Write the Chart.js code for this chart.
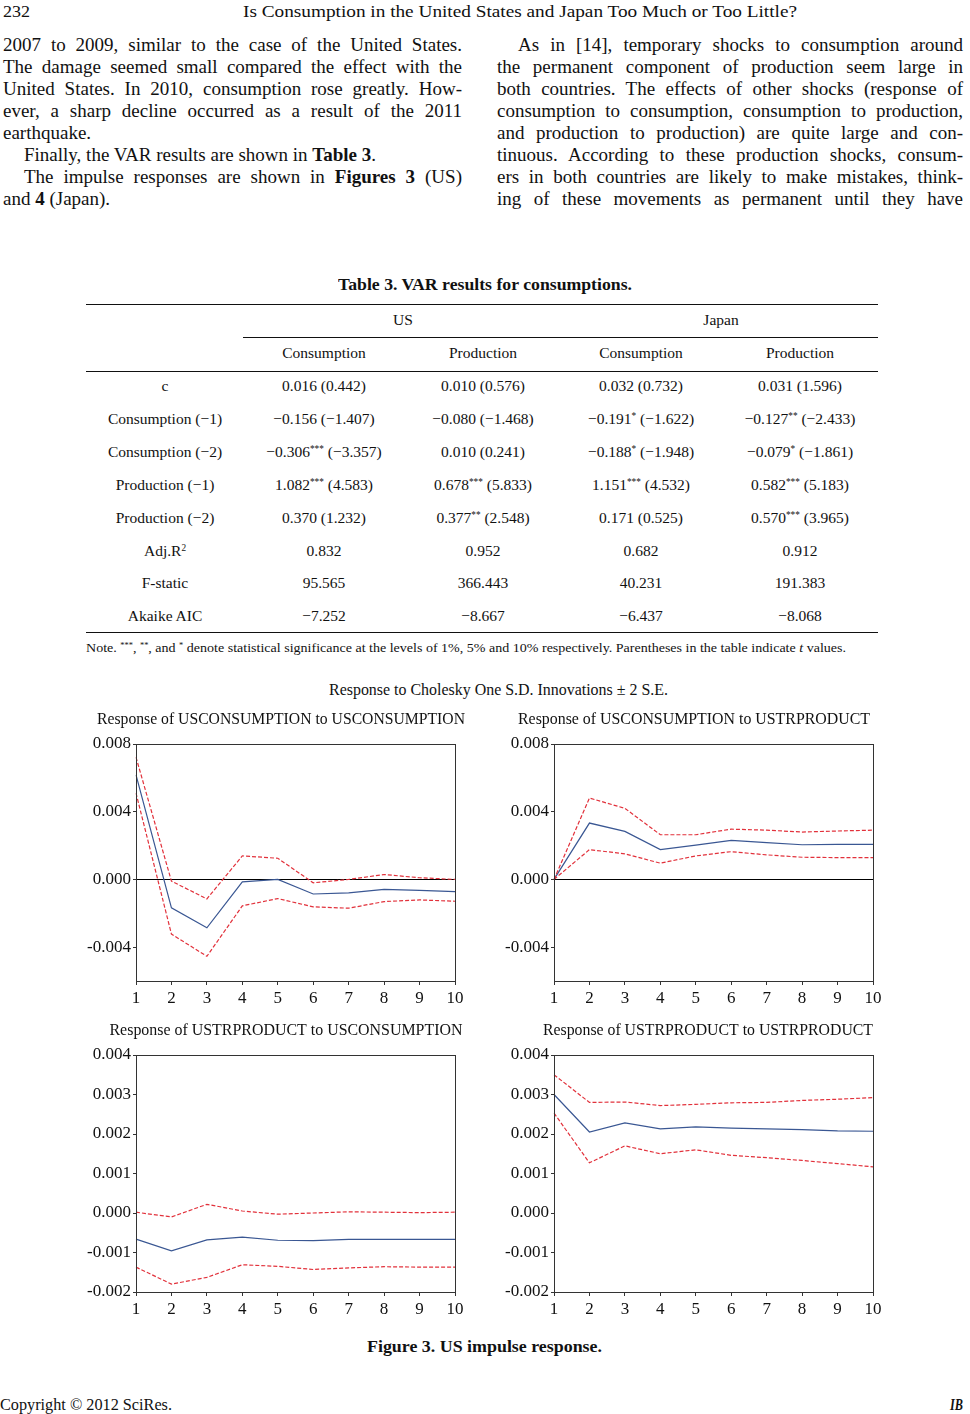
<!DOCTYPE html>
<html>
<head>
<meta charset="utf-8">
<title>Figure 3. US impulse response</title>
<script src="https://cdn.jsdelivr.net/npm/chart.js@4.4.1/dist/chart.umd.min.js"></script>
<style>
  html, body { margin: 0; padding: 0; background: #fff; }
  #page { position: relative; width: 970px; height: 1414px; overflow: hidden; background: #fff;
          font-family: "Liberation Serif", "DejaVu Serif", serif; color: #111; }
  .fit { position: absolute; white-space: nowrap; transform-origin: left center; line-height: 20px; }
  .col { position: absolute; top: 34px; font-size: 19px; line-height: 22px; }
  .col div { height: 22px; text-align: justify; text-align-last: justify; }
  .col div.last { text-align-last: left; }
  .col div.ind { text-indent: 21px; }
  .rule { position: absolute; height: 0; border-top: 1.3px solid #111; }
  .cell { position: absolute; white-space: nowrap; transform: translate(-50%, -50%); font-size: 15.5px; line-height: 20px; }
  sup { font-size: 0.6em; line-height: 0; vertical-align: 0.55em; }
  canvas { position: absolute; }
</style>
</head>
<body>
<div id="page">
  <div class="fit" data-x0="3" data-x1="30" data-y="12" style="font-size:16px">232</div>
  <div class="fit" data-x0="243" data-x1="797" data-y="12" style="font-size:16px">Is Consumption in the United States and Japan Too Much or Too Little?</div>

  <div class="col" style="left:3px; width:459px;">
    <div>2007 to 2009, similar to the case of the United States.</div>
    <div>The damage seemed small compared the effect with the</div>
    <div>United States. In 2010, consumption rose greatly. How-</div>
    <div>ever, a sharp decline occurred as a result of the 2011</div>
    <div class="last">earthquake.</div>
    <div class="ind last">Finally, the VAR results are shown in <b>Table 3</b>.</div>
    <div class="ind">The impulse responses are shown in <b>Figures 3</b> (US)</div>
    <div class="last">and <b>4</b> (Japan).</div>
  </div>
  <div class="col" style="left:497px; width:466px;">
    <div class="ind">As in [14], temporary shocks to consumption around</div>
    <div>the permanent component of production seem large in</div>
    <div>both countries. The effects of other shocks (response of</div>
    <div>consumption to consumption, consumption to production,</div>
    <div>and production to production) are quite large and con-</div>
    <div>tinuous. According to these production shocks, consum-</div>
    <div>ers in both countries are likely to make mistakes, think-</div>
    <div>ing of these movements as permanent until they have</div>
  </div>

  <div class="fit" data-x0="338" data-x1="632" data-y="285" style="font-size:16px; font-weight:bold">Table 3. VAR results for consumptions.</div>
  <div class="rule" style="left:86px; width:792px; top:304px;"></div>
  <div class="rule" style="left:243px; width:635px; top:337px;"></div>
  <div class="rule" style="left:86px; width:792px; top:371px;"></div>
  <div class="rule" style="left:86px; width:792px; top:632px;"></div>
  <div id="table"></div>
  <div class="fit" data-x0="86" data-x1="846" data-y="648" style="font-size:13px">Note. <sup>***</sup>, <sup>**</sup>, and <sup>*</sup> denote statistical significance at the levels of 1%, 5% and 10% respectively. Parentheses in the table indicate <i>t</i> values.</div>

  <div class="fit" data-x0="329" data-x1="668" data-y="690" style="font-size:16px">Response to Cholesky One S.D. Innovations ± 2 S.E.</div>

  <canvas id="ccChart" width="400" height="300" style="left:80px; top:704px;"></canvas>
  <canvas id="cpChart" width="400" height="300" style="left:498px; top:704px;"></canvas>
  <canvas id="pcChart" width="400" height="300" style="left:80px; top:1015px;"></canvas>
  <canvas id="ppChart" width="400" height="300" style="left:498px; top:1015px;"></canvas>

  <div class="fit" data-x0="367" data-x1="602" data-y="1347" style="font-size:16px; font-weight:bold">Figure 3. US impulse response.</div>
  <div class="fit" data-x0="0" data-x1="172" data-y="1405" style="font-size:16px">Copyright © 2012 SciRes.</div>
  <div class="fit" data-x0="950" data-x1="963" data-y="1405" style="font-size:17px; font-weight:bold; font-style:italic">IB</div>
</div>

<script>
// Impulse horizons (periods after the shock)
const horizons = ['1', '2', '3', '4', '5', '6', '7', '8', '9', '10'];

// Response of USCONSUMPTION to USCONSUMPTION
const ccResp  = [0.00618, -0.00168, -0.00286, -0.00014, 0.00000, -0.00086, -0.00080, -0.00059, -0.00065, -0.00072];
const ccUpper = [0.00722, -0.00010, -0.00115, 0.00139, 0.00125, -0.00020, 0.00000, 0.00029, 0.00010, 0.00000];
const ccLower = [0.00510, -0.00323, -0.00454, -0.00156, -0.00113, -0.00162, -0.00170, -0.00131, -0.00121, -0.00129];

// Response of USCONSUMPTION to USTRPRODUCT
const cpResp  = [0, 0.00333, 0.00284, 0.00176, 0.00203, 0.00231, 0.00217, 0.00205, 0.00207, 0.00207];
const cpUpper = [0, 0.00481, 0.00420, 0.00264, 0.00264, 0.00297, 0.00291, 0.00280, 0.00286, 0.00291];
const cpLower = [0, 0.00176, 0.00151, 0.00096, 0.00139, 0.00164, 0.00145, 0.00131, 0.00129, 0.00129];

// Response of USTRPRODUCT to USCONSUMPTION
const pcResp  = [-0.00066, -0.00096, -0.00068, -0.00061, -0.00069, -0.00070, -0.00067, -0.00067, -0.00067, -0.00067];
const pcUpper = [0.00002, -0.00010, 0.00022, 0.00005, -0.00003, 0.00000, 0.00003, 0.00002, 0.00001, 0.00002];
const pcLower = [-0.00137, -0.00180, -0.00163, -0.00131, -0.00135, -0.00143, -0.00139, -0.00136, -0.00137, -0.00137];

// Response of USTRPRODUCT to USTRPRODUCT
const ppResp  = [0.00300, 0.00205, 0.00228, 0.00213, 0.00218, 0.00215, 0.00213, 0.00211, 0.00208, 0.00207];
const ppUpper = [0.00350, 0.00280, 0.00281, 0.00272, 0.00275, 0.00279, 0.00280, 0.00285, 0.00288, 0.00292];
const ppLower = [0.00253, 0.00127, 0.00170, 0.00150, 0.00160, 0.00146, 0.00140, 0.00133, 0.00125, 0.00117];

// Y-axis tick labels shown on each row of panels
const consTicks = [-0.004, 0.000, 0.004, 0.008];
const prodTicks = [-0.002, -0.001, 0.000, 0.001, 0.002, 0.003, 0.004];

// Table 3 text
const tableHead = ['Consumption', 'Production', 'Consumption', 'Production'];
const rowLabels = ['c', 'Consumption (−1)', 'Consumption (−2)', 'Production (−1)', 'Production (−2)',
                   'Adj.R<sup>2</sup>', 'F-static', 'Akaike AIC'];
const rowCells = [
  ['0.016 (0.442)', '0.010 (0.576)', '0.032 (0.732)', '0.031 (1.596)'],
  ['−0.156 (−1.407)', '−0.080 (−1.468)', '−0.191<sup>*</sup> (−1.622)', '−0.127<sup>**</sup> (−2.433)'],
  ['−0.306<sup>***</sup> (−3.357)', '0.010 (0.241)', '−0.188<sup>*</sup> (−1.948)', '−0.079<sup>*</sup> (−1.861)'],
  ['1.082<sup>***</sup> (4.583)', '0.678<sup>***</sup> (5.833)', '1.151<sup>***</sup> (4.532)', '0.582<sup>***</sup> (5.183)'],
  ['0.370 (1.232)', '0.377<sup>**</sup> (2.548)', '0.171 (0.525)', '0.570<sup>***</sup> (3.965)'],
  ['0.832', '0.952', '0.682', '0.912'],
  ['95.565', '366.443', '40.231', '191.383'],
  ['−7.252', '−8.667', '−6.437', '−8.068'],
];

// --- table layout
const colX = [165, 324, 483, 641, 800];
const rowY = [386, 419, 452, 485, 518, 551, 583, 616];
const tbl = document.getElementById('table');
function cell(html, x, y) {
  const d = document.createElement('div');
  d.className = 'cell';
  d.style.left = x + 'px';
  d.style.top = y + 'px';
  d.innerHTML = html;
  tbl.appendChild(d);
}
cell('US', 403, 320);
cell('Japan', 721, 320);
tableHead.forEach((h, i) => cell(h, colX[i + 1], 353));
rowLabels.forEach((lab, r) => {
  cell(lab, colX[0], rowY[r]);
  rowCells[r].forEach((v, c) => cell(v, colX[c + 1], rowY[r]));
});

// squeeze/stretch single-line texts to the width they take on the page
document.querySelectorAll('.fit').forEach(el => {
  const x0 = +el.dataset.x0, x1 = +el.dataset.x1, y = +el.dataset.y;
  el.style.left = x0 + 'px';
  el.style.top = (y - 10) + 'px';
  const w = el.getBoundingClientRect().width;
  if (w > 0) el.style.transform = `scaleX(${(x1 - x0) / w})`;
});

// --- charts
const BLUE = '#3a5793';
const RED = '#e2313b';
const INK = '#111';
const FONT = '"Liberation Serif", "DejaVu Serif", serif';
Chart.defaults.font.family = FONT;
Chart.defaults.color = INK;

// box around the plot area, like the EViews output
const framePlugin = {
  id: 'frame',
  afterDraw(chart) {
    const a = chart.chartArea, ctx = chart.ctx;
    ctx.save();
    ctx.strokeStyle = '#333';
    ctx.lineWidth = 1;
    ctx.strokeRect(Math.round(a.left) + 0.5, Math.round(a.top) + 0.5,
                   Math.round(a.right - a.left), Math.round(a.bottom - a.top));
    ctx.restore();
  }
};

// horizontal zero line (top panels only)
const zeroPlugin = {
  id: 'zeroLine',
  beforeDatasetsDraw(chart, args, opts) {
    if (!opts.show) return;
    const a = chart.chartArea, ctx = chart.ctx;
    const y = Math.round(chart.scales.y.getPixelForValue(0)) + 0.5;
    ctx.save();
    ctx.strokeStyle = '#000';
    ctx.lineWidth = 1;
    ctx.beginPath();
    ctx.moveTo(a.left, y);
    ctx.lineTo(a.right, y);
    ctx.stroke();
    ctx.restore();
  }
};

// panel heading; EViews centres it a bit left of the plot box, so x is given per panel
const panelTitlePlugin = {
  id: 'panelTitle',
  afterDraw(chart, args, opts) {
    const ctx = chart.ctx;
    ctx.save();
    ctx.font = `16px ${FONT}`;
    ctx.fillStyle = INK;
    ctx.textAlign = 'center';
    ctx.textBaseline = 'middle';
    const w = ctx.measureText(opts.text).width;
    const sx = opts.width ? opts.width / w : 1;
    ctx.translate(opts.x, 16);
    ctx.scale(sx, 1);
    ctx.fillText(opts.text, 0, 0);
    ctx.restore();
  }
};

function makeChart(id, title, titleX, titleW, resp, upper, lower, yMin, yMax, yTicks, zeroLine) {
  const band = data => ({
    data, borderColor: RED, borderWidth: 1.2, borderDash: [4, 2],
    pointRadius: 0, tension: 0, fill: false,
  });
  return new Chart(document.getElementById(id), {
    type: 'line',
    data: {
      labels: horizons,
      datasets: [
        band(upper),
        band(lower),
        { data: resp, borderColor: BLUE, borderWidth: 1.2, pointRadius: 0, tension: 0, fill: false },
      ],
    },
    options: {
      responsive: false,
      animation: false,
      events: [],
      layout: { padding: { left: 0, right: 25, top: 40, bottom: 0 } },
      plugins: {
        legend: { display: false },
        tooltip: { enabled: false },
        title: { display: false },
        panelTitle: { text: title, x: titleX, width: titleW },
        zeroLine: { show: zeroLine },
      },
      scales: {
        x: {
          offset: false,
          border: { display: false },
          grid: { drawOnChartArea: false, drawTicks: true, tickLength: 4, tickColor: '#333' },
          ticks: { font: { size: 17 }, padding: 3, maxRotation: 0, autoSkip: false, color: INK },
          afterFit: s => { s.height = 23; },
        },
        y: {
          min: yMin, max: yMax,
          border: { display: false },
          grid: { drawOnChartArea: false, drawTicks: true, tickLength: 3, tickColor: '#333' },
          ticks: { font: { size: 17 }, padding: 2, color: INK, callback: v => v.toFixed(3) },
          afterBuildTicks: s => { s.ticks = yTicks.map(v => ({ value: v })); },
          afterFit: s => { s.width = 56; },
        },
      },
    },
    plugins: [framePlugin, zeroPlugin, panelTitlePlugin],
  });
}

makeChart('ccChart', 'Response of USCONSUMPTION to USCONSUMPTION', 201, 368, ccResp, ccUpper, ccLower, -0.006, 0.008, consTicks, true);
makeChart('cpChart', 'Response of USCONSUMPTION to USTRPRODUCT', 196, 352, cpResp, cpUpper, cpLower, -0.006, 0.008, consTicks, true);
makeChart('pcChart', 'Response of USTRPRODUCT to USCONSUMPTION', 206, 353, pcResp, pcUpper, pcLower, -0.002, 0.004, prodTicks, false);
makeChart('ppChart', 'Response of USTRPRODUCT to USTRPRODUCT', 210, 330, ppResp, ppUpper, ppLower, -0.002, 0.004, prodTicks, false);
</script>
</body>
</html>
